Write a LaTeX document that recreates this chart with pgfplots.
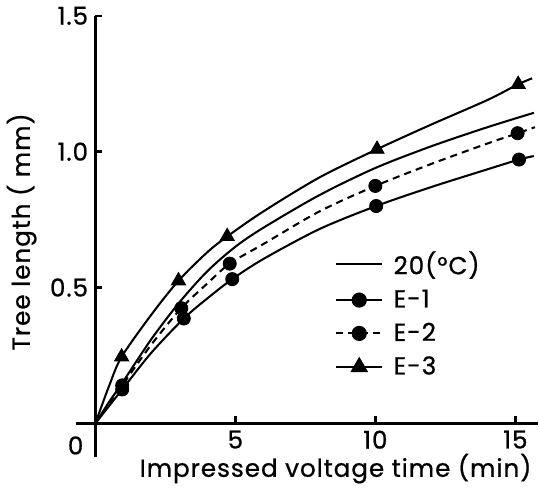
\documentclass[border=0pt]{standalone}
\usepackage{fontspec}
\setmainfont[LetterSpace=4, FakeBold=0.8]{Poppins}
\usepackage{pgfplots}
\pgfplotsset{compat=1.18}

\begin{document}
\begin{tikzpicture}
\begin{axis}[
    scale only axis,
    width=215.7pt,
    height=198.7pt,
    xmin=0, xmax=15.8,
    ymin=0, ymax=1.5,
    axis lines=left,
    axis line style={-, line width=1.2pt},
    tick align=inside,
    major tick length=3.5pt,
    tick style={line width=1.2pt, black},
    xtick={5,10,15}, xticklabels={5,10,15},
    ytick={0.5,1.0,1.5}, yticklabels={0.5,1.0,1.5},
    font=\fontsize{12}{14}\selectfont,
    ticklabel style={font=\fontsize{12}{14}\selectfont},
    xlabel={Impressed voltage time (min)},
    ylabel={Tree length ( mm)},
    every axis x label/.style={at={(axis description cs:0.543,-0.131)}, anchor=base},
    every axis y label/.style={at={(axis description cs:-0.148,0.47)}, rotate=90, anchor=base},
    clip=false,
    legend image code/.code={
        \path[draw=none, fill=none] (0pt,-4.2pt) -- (0pt,4.2pt);
        \draw[mark repeat=2,mark phase=2] plot coordinates {(0pt,0pt) (11.25pt,0pt) (22.5pt,0pt)};},
    legend style={at={(axis cs:8.55,0.635)}, anchor=north west, draw=none, fill=none,
        row sep=6pt, inner sep=0pt,
        nodes={inner sep=0pt},
        /tikz/every odd column/.append style={column sep=5pt},
        font=\fontsize{12}{14}\selectfont},
    legend cell align=left,
]
% legend entries
\addlegendimage{line width=1pt, solid}
\addlegendentry{20(°C)}
\addlegendimage{line width=1pt, solid, mark=*, mark size=3.2pt}
\addlegendentry{E-1}
\addlegendimage{line width=1pt, dash pattern=on 3.5pt off 2.5pt, mark=*, mark size=3.2pt, mark options={solid}}
\addlegendentry{E-2}
\addlegendimage{line width=1pt, solid, mark=triangle*, mark size=4pt}
\addlegendentry{E-3}

% fitted curves
\addplot[forget plot, line width=1pt, smooth, tension=0.5] coordinates {
    (0,0) (0.5,0.08) (1,0.155) (2,0.31) (3,0.445) (4,0.56) (5,0.65) (6,0.72) (8,0.84) (10,0.94) (12,1.02) (14,1.09) (15.66,1.143)
};
\addplot[forget plot, line width=1pt, smooth, tension=0.5] coordinates {
    (0,0) (0.96,0.125) (2,0.26) (3.16,0.386) (4,0.46) (4.89,0.531) (6,0.605) (8,0.715) (10.03,0.80) (12,0.87) (14,0.935) (15.13,0.971) (15.66,0.984)
};
\addplot[forget plot, line width=1pt, smooth, tension=0.5, dash pattern=on 3.5pt off 2.5pt] coordinates {
    (0,0) (0.96,0.14) (2,0.29) (3.07,0.424) (4,0.515) (4.8,0.588) (6,0.66) (8,0.78) (10,0.874) (12,0.955) (14,1.03) (15.08,1.068) (15.7,1.09)
};
\addplot[forget plot, line width=1pt, smooth, tension=0.5] coordinates {
    (0,0) (0.5,0.14) (0.94,0.245) (2,0.40) (2.97,0.525) (4,0.63) (4.71,0.688) (6,0.78) (8,0.905) (10.06,1.009) (12,1.10) (14,1.19) (15.1,1.248) (15.6,1.27)
};

% measured points
\addplot[forget plot, only marks, mark=*, mark size=3.2pt] coordinates {
    (0.96,0.125) (3.16,0.386) (4.89,0.531) (10.03,0.80) (15.13,0.971)
};
\addplot[forget plot, only marks, mark=*, mark size=3.2pt] coordinates {
    (0.96,0.14) (3.07,0.424) (4.8,0.588) (10,0.874) (15.08,1.068)
};
\addplot[forget plot, only marks, mark=triangle*, mark size=4pt] coordinates {
    (0.94,0.245) (2.97,0.525) (4.71,0.688) (10.06,1.009) (15.1,1.248)
};

% axis overhangs and origin label
\draw[line width=1.2pt] (axis cs:-0.7,0) -- (axis cs:0,0);
\draw[line width=1.2pt] (axis cs:0,-0.125) -- (axis cs:0,0);
\node[anchor=center, xshift=-9.6pt, yshift=-10.75pt, font=\fontsize{12}{14}\selectfont] at (axis cs:0,0) {0};
\end{axis}
\end{tikzpicture}
\end{document}
